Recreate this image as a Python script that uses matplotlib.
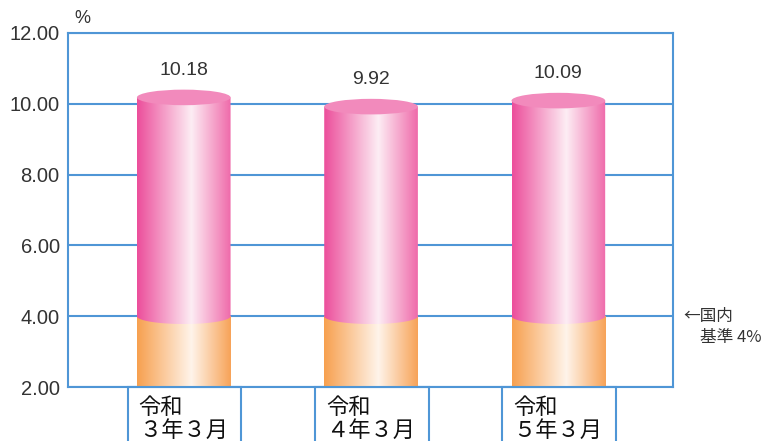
import matplotlib
matplotlib.use("Agg")
import matplotlib.pyplot as plt
import numpy as np
from matplotlib.colors import LinearSegmentedColormap
from matplotlib.patches import Ellipse, PathPatch, Rectangle
from matplotlib.path import Path
from matplotlib.transforms import blended_transform_factory

plt.rcParams['font.family'] = ['Noto Sans CJK JP', 'DejaVu Sans']
num_font = ['Liberation Sans', 'DejaVu Sans']

# data
categories = ["令和\n３年３月", "令和\n４年３月", "令和\n５年３月"]
ratios = [10.18, 9.92, 10.09]
value_labels = ["10.18", "9.92", "10.09"]
base_line = 4.0
yticks = [2, 4, 6, 8, 10, 12]

blue = "#4f96d6"
pink_cmap = LinearSegmentedColormap.from_list(
    "pink", [(0, "#ec4e9b"), (0.58, "#fdedf4"), (1, "#ef6aaa")])
orange_cmap = LinearSegmentedColormap.from_list(
    "orange", [(0, "#f7a04f"), (0.58, "#fff4ea"), (1, "#f7a358")])
gradient = np.linspace(0, 1, 256).reshape(1, -1)

fig = plt.figure(figsize=(7.7, 4.41), dpi=100)
ax = fig.add_axes([0.0883, 0.1224, 0.7857, 0.8028])
ax.set_xlim(-0.618, 2.612)
ax.set_ylim(2, 12)
ax.set_yticks(yticks)
ax.set_yticklabels([f"{t:.2f}" for t in yticks], fontsize=14.5, color="#333333",
                   family=num_font)
ax.tick_params(axis="y", length=0, pad=6)
ax.set_xticks([])
for t in yticks:
    ax.axhline(t, color=blue, lw=1.5, zorder=1)
for s in ["left", "right", "top", "bottom"]:
    ax.spines[s].set_color(blue)
    ax.spines[s].set_linewidth(1.5)

half_w = 0.25
b = 0.22
theta = np.linspace(0, np.pi, 60)

for i, v in enumerate(ratios):
    x0, x1 = i - half_w, i + half_w
    # orange part
    orect = Rectangle((x0, 2), 2 * half_w, base_line - 2,
                      facecolor="none", edgecolor="none")
    ax.add_patch(orect)
    im = ax.imshow(gradient, cmap=orange_cmap, extent=(x0, x1, 2, base_line),
                   aspect="auto", zorder=2)
    im.set_clip_path(orect)
    # pink body with rounded bottom
    ex = i + half_w * np.cos(theta)
    ey = base_line - b * np.sin(theta)
    verts = [(x0, base_line), (x0, v), (x1, v)] + list(zip(ex, ey))
    ppath = PathPatch(Path(verts), facecolor="none", edgecolor="none")
    ax.add_patch(ppath)
    im = ax.imshow(gradient, cmap=pink_cmap, extent=(x0, x1, base_line - b, v),
                   aspect="auto", zorder=3)
    im.set_clip_path(ppath)
    # top
    ax.add_patch(Ellipse((i, v), 2 * half_w, 2 * b, facecolor="#f28abc",
                         edgecolor="none", zorder=4))
    ax.text(i, v + 0.77, value_labels[i], ha="center", va="center",
            fontsize=14, color="#333333", zorder=5, family=num_font)
ax.set_ylim(2, 12)

# category boxes under the axis
trans = blended_transform_factory(ax.transData, ax.transAxes)
for i, lab in enumerate(categories):
    ax.add_patch(Rectangle((i - 0.3, -0.3), 0.608, 0.3, transform=trans,
                           facecolor="white", edgecolor=blue, lw=1.5,
                           clip_on=False, zorder=1))
    ax.text(i - 0.24, -0.026, lab, transform=trans, ha="left", va="top",
            fontsize=16, color="#111111", linespacing=1.0)

ax.text(0.023, 1.042, "%", transform=ax.transAxes, ha="center", va="center",
        fontsize=13, color="#333333", family=num_font)
ftrans = blended_transform_factory(fig.transFigure, ax.transData)
ax.text(683 / 770, 4.0, "←国内", transform=ftrans,
        ha="left", va="center", fontsize=12, color="#333333")
ax.text(700 / 770, 3.4, "基準 4%", transform=ftrans,
        ha="left", va="center", fontsize=12, color="#333333")

fig.savefig("out.png", dpi=100)
